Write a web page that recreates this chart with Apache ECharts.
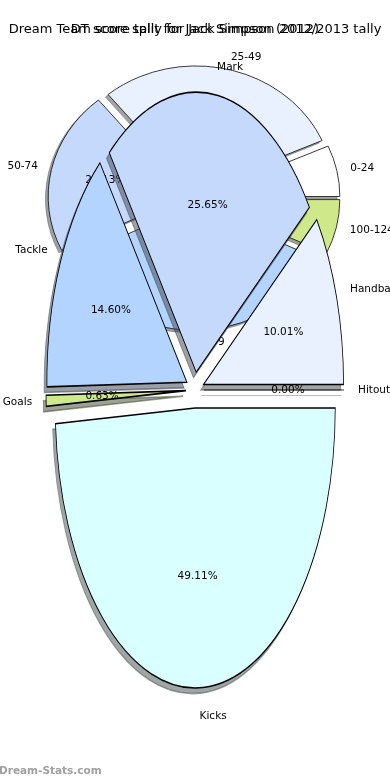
<!DOCTYPE html>
<html><head><meta charset="utf-8">
<script src="https://cdn.jsdelivr.net/npm/echarts@6/dist/echarts.min.js"></script>
<style>html,body{margin:0;padding:0;background:#fff}#c{width:390px;height:780px}</style>
</head><body><div id="c"></div>
<script>
// ---- data ----
const titleTally = 'Dream Team score tally for Jack Simpson 2012/2013 tally';
const titleSplit = 'DT score split for Jack Simpson (2012)';
const tallyCategories = ['0-24', '25-49', '50-74', '75-99', '100-124'];
const tallyValues = [6.61, 29.36, 21.13, 35.82, 7.08];
const splitCategories = ['Hitout', 'Handball', 'Mark', 'Tackle', 'Goals', 'Kicks'];
const splitValues = [0.00, 10.01, 25.65, 14.60, 0.63, 49.11];
const watermark = 'Dream-Stats.com';

// ---- style ----
const sliceColors = ['#ffffff', '#eaf1fe', '#c5d9fd', '#b3d4ff', '#cfe98a', '#d9ffff'];
const FONT = '10.5px "DejaVu Sans"';
const tallyGeom = { cx: 194, cy: 198, rx: 138, ry: 125, explode: 0.058 };
const splitGeom = { cx: 195, cy: 390, rx: 140, ry: 280, explode: 0.0643 };

function hexRgb(h) {
  return [1, 3, 5].map(p => parseInt(h.substr(p, 2), 16));
}

function makePie(cats, vals, g, z) {
  const total = vals.reduce((s, v) => s + v, 0);
  const cum = []; let acc = 0;
  vals.forEach(v => { cum.push(acc); acc += v; });
  return {
    type: 'custom', coordinateSystem: 'none', z: z, silent: true, animation: false,
    data: vals.map((v, i) => ({ name: cats[i], value: [i, v] })),
    renderItem: function (params, api) {
      const i = params.dataIndex;
      const v = api.value(1);
      const t1 = cum[i] / total * 2 * Math.PI;
      const t2 = (cum[i] + v) / total * 2 * Math.PI;
      const tm = (t1 + t2) / 2;
      const c = Math.cos(tm), s = Math.sin(tm);
      const ox = g.cx + g.explode * g.rx * c;
      const oy = g.cy - g.explode * g.ry * s;
      const k = g.ry / g.rx;
      const sdx = -0.02 * g.rx, sdy = 0.02 * g.ry;
      const col = sliceColors[i % sliceColors.length];
      const shade = 'rgba(' + hexRgb(col).map(x => Math.round(x * 0.3)).join(',') + ',0.5)';
      function wedge(x, y, fill, stroke, z2) {
        if (t2 - t1 < 1e-9) {
          return { type: 'line', x: x, y: y,
            shape: { x1: 0, y1: 0, x2: g.rx * Math.cos(t1), y2: -g.ry * Math.sin(t1) },
            style: { stroke: stroke, lineWidth: 0.8 }, z2: z2 };
        }
        return { type: 'sector', x: x, y: y, scaleY: k,
          shape: { cx: 0, cy: 0, r: g.rx, r0: 0, startAngle: -t1, endAngle: -t2, clockwise: false },
          style: { fill: fill, stroke: stroke, lineWidth: 0.8, strokeNoScale: true }, z2: z2 };
      }
      const pct = (v / total * 100).toFixed(2) + '%';
      return {
        type: 'group',
        children: [
          wedge(ox + sdx, oy + sdy, shade, shade, 1),
          wedge(ox, oy, col, '#000', 10),
          { type: 'text', x: ox + 0.6 * g.rx * c, y: oy - 0.6 * g.ry * s, z2: 30,
            style: { text: pct, font: FONT, fill: '#000', align: 'center', verticalAlign: 'middle' } },
          { type: 'text', x: ox + 1.1 * g.rx * c, y: oy - 1.1 * g.ry * s, z2: 30,
            style: { text: cats[i], font: FONT, fill: '#000', align: c > 0 ? 'left' : 'right', verticalAlign: 'middle' } }
        ]
      };
    }
  };
}

const chart = echarts.init(document.getElementById('c'), null, { renderer: 'canvas' });
const titleStyle = { fontSize: 13, fontWeight: 'normal', color: '#000', fontFamily: 'DejaVu Sans' };
chart.setOption({
  animation: false,
  backgroundColor: '#fff',
  title: [
    { text: titleTally, left: 'center', top: 23, padding: 0, textStyle: titleStyle },
    { text: titleSplit, left: 'center', top: 23, padding: 0, textStyle: titleStyle }
  ],
  graphic: [
    { type: 'text', left: -1, top: 766, z: 10,
      style: { text: watermark, fill: '#a0a0a0', font: 'bold 10.5px "DejaVu Sans"' } }
  ],
  series: [
    makePie(tallyCategories, tallyValues, tallyGeom, 2),
    makePie(splitCategories, splitValues, splitGeom, 3)
  ]
});
</script>
</body></html>
